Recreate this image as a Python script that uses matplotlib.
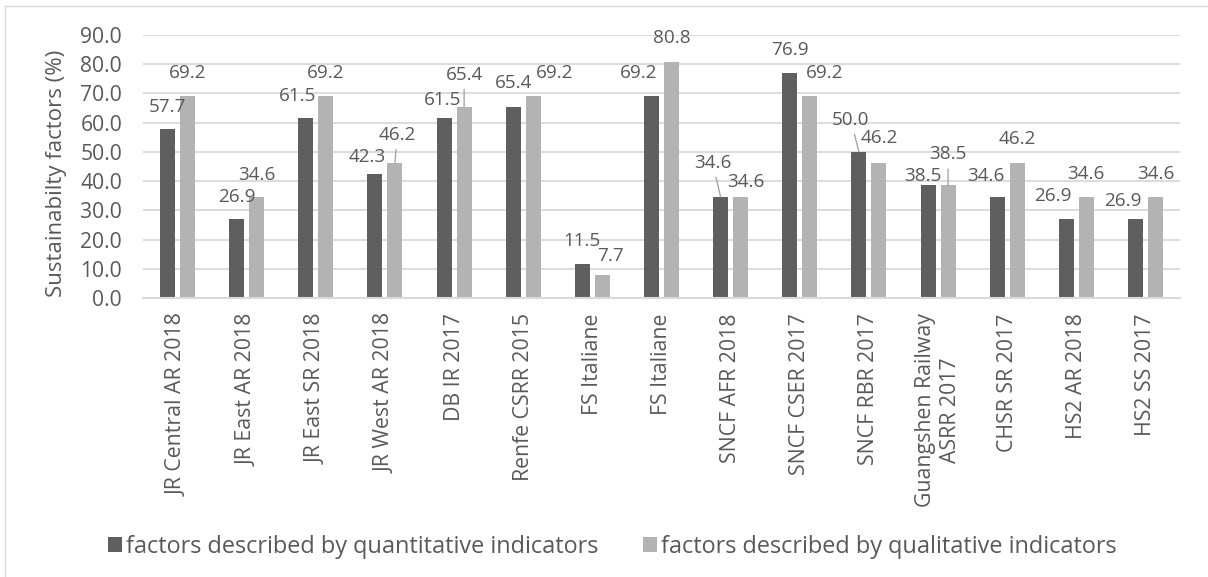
import matplotlib
matplotlib.use("Agg")
import matplotlib.pyplot as plt
from matplotlib.patches import Rectangle
import numpy as np

# ---- data ----
categories = [
    "JR Central AR 2018", "JR East AR 2018", "JR East SR 2018", "JR West AR 2018",
    "DB IR 2017", "Renfe CSRR 2015", "FS Italiane", "FS Italiane",
    "SNCF AFR 2018", "SNCF CSER 2017", "SNCF RBR 2017",
    "Guangshen Railway\nASRR 2017", "CHSR SR 2017", "HS2 AR 2018", "HS2 SS 2017",
]
quantitative = [57.7, 26.9, 61.5, 42.3, 61.5, 65.4, 11.5, 69.2, 34.6, 76.9, 50.0, 38.5, 34.6, 26.9, 26.9]
qualitative = [69.2, 34.6, 69.2, 46.2, 65.4, 69.2, 7.7, 80.8, 34.6, 69.2, 46.2, 38.5, 46.2, 34.6, 34.6]
series_names = ["factors described by quantitative indicators",
                "factors described by qualitative indicators"]
y_ticks = [0, 10, 20, 30, 40, 50, 60, 70, 80, 90]

# ---- label placement (pixel offsets of label centre from the bar top) ----
quant_offsets = [(0, 22), (0, 22), (-8, 22), (-8, 17), (-2, 18), (0, 24), (0, 23), (-13, 23),
                 (-8, 34), (0, 23), (-8, 32), (-5, 9), (-11, 21), (-13, 23), (-13, 18)]
qual_offsets = [(0, 23), (0, 22), (0, 23), (2, 28), (0, 32), (21, 23), (8, 19), (0, 24),
                (5, 15), (15, 23), (0, 25), (0, 31), (0, 24), (0, 23), (0, 23)]
quant_leaders = {8, 10}
qual_leaders = {3, 4, 11}

# ---- style ----
FONT = "Open Sans"
TEXT = "#595959"
DARK = "#5f5f5f"
LIGHT = "#b3b3b3"
GRID = "#d9d9d9"
LEADER = "#a6a6a6"

plt.rcParams["font.family"] = [FONT, "DejaVu Sans"]

W, H = 1208, 577
fig = plt.figure(figsize=(W / 100, H / 100), dpi=100)
fig.patch.set_facecolor("white")

# outer chart border
fig.add_artist(Rectangle((5 / W, -0.05), 1.2, (H - 6) / H + 0.05, transform=fig.transFigure,
                         fill=False, edgecolor=GRID, linewidth=1.0))

ax = fig.add_axes([143 / W, 1 - 298 / H, (1180 - 143) / W, (298 - 35) / H])

x = np.arange(len(categories))
bw = 0.217
off = 0.145
b1 = ax.bar(x - off, quantitative, width=bw, color=DARK, zorder=3, label=series_names[0])
b2 = ax.bar(x + off, qualitative, width=bw, color=LIGHT, zorder=3, label=series_names[1])

ax.set_xlim(-0.5, len(categories) - 0.5)
ax.set_ylim(0, 90)
ax.set_yticks(y_ticks)
ax.set_yticklabels([f"{v:.1f}" for v in y_ticks])
ax.yaxis.grid(True, color=GRID, linewidth=1.3, zorder=0)
ax.set_axisbelow(True)
for s in ["top", "right", "left"]:
    ax.spines[s].set_visible(False)
ax.spines["bottom"].set_color(GRID)
ax.spines["bottom"].set_linewidth(1.5)
ax.spines["bottom"].set_zorder(4)

ax.tick_params(axis="y", length=0, pad=15, labelsize=15.2, labelcolor=TEXT)
ax.tick_params(axis="x", length=0, pad=11, labelsize=15.3, labelcolor=TEXT)
ax.set_xticks(x)
ax.set_xticklabels(categories, rotation=90, ha="center", va="top")
for t in ax.get_xticklabels():
    t.set_multialignment("center")

ax.set_ylabel("Sustainabilty factors (%)", fontsize=16, color=TEXT, va="center")
ax.yaxis.set_label_coords(-0.083, 0.475)


def add_labels(xs, values, offsets, leaders):
    for i, (xi, v) in enumerate(zip(xs, values)):
        dx, dy = offsets[i]
        kw = {}
        if i in leaders:
            kw["arrowprops"] = dict(arrowstyle="-", color=LEADER, lw=1.0,
                                    shrinkA=2, shrinkB=0)
        ax.annotate(f"{v:.1f}", xy=(xi, v), xytext=(dx, dy), textcoords="offset pixels",
                    ha="center", va="center", fontsize=13.6, color=TEXT,
                    zorder=5, annotation_clip=False, **kw)


add_labels(x - off, quantitative, quant_offsets, quant_leaders)
add_labels(x + off, qualitative, qual_offsets, qual_leaders)

leg = fig.legend(handles=[b1, b2], labels=series_names, loc="center",
                 bbox_to_anchor=(612.5 / W, 1 - 547 / H), ncol=2, frameon=False,
                 fontsize=16.9, handlelength=0.6, handleheight=0.6,
                 handletextpad=0.17, columnspacing=1.9, borderpad=0, borderaxespad=0)
for t in leg.get_texts():
    t.set_color(TEXT)

fig.savefig("out.png", dpi=100, facecolor="white")
